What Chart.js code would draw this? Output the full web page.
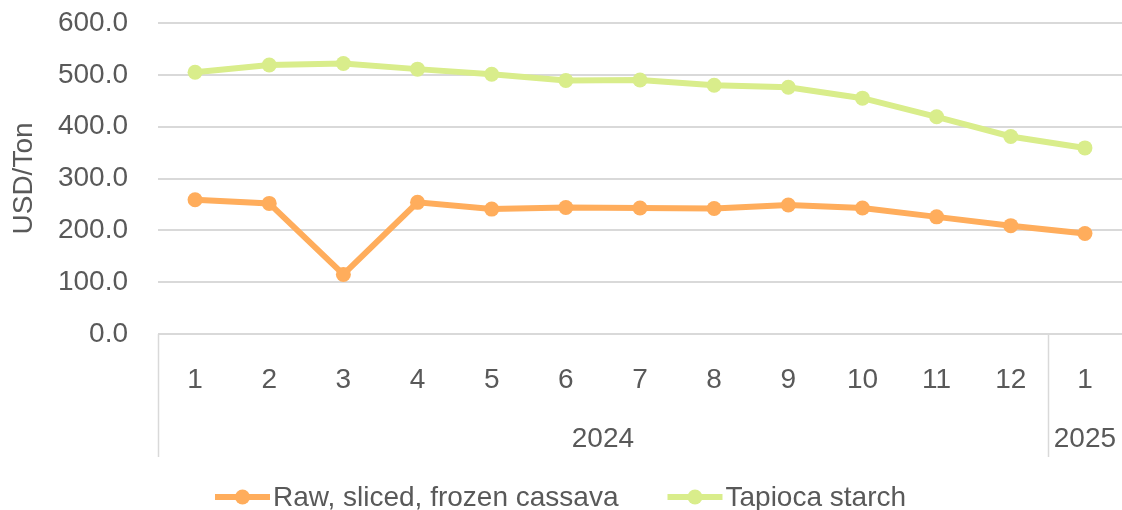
<!DOCTYPE html>
<html>
<head>
<meta charset="utf-8">
<script src="https://cdn.jsdelivr.net/npm/chart.js@4/dist/chart.umd.min.js"></script>
<style>
  html, body { margin: 0; padding: 0; background: #fff; }
  #wrap { width: 1122px; height: 510px; }
</style>
</head>
<body>
<div id="wrap"><canvas id="myChart" width="1122" height="510"></canvas></div>
<script>
var months = ['1', '2', '3', '4', '5', '6', '7', '8', '9', '10', '11', '12', '1'];
var years = ['2024', '2025'];
var yearSpan = [12, 1]; // months in each year group
var cassava = [259, 252, 115, 254, 241, 244, 243, 242, 249, 243, 226, 209, 194];
var tapioca = [505, 519, 522, 511, 501, 489, 490, 480, 476, 455, 419, 381, 359];
var seriesNames = ['Raw, sliced, frozen cassava', 'Tapioca starch'];
var seriesColors = ['#FFAD5C', '#D9ED8B'];
var yTicks = [0, 100, 200, 300, 400, 500, 600];

var textColor = '#595959';
var fontName = '"Liberation Sans", Arial, sans-serif';
var fontSize = 28;

// group centres and borders on the linear year axis
var yearCentres = [];
var yearBorders = [-0.5];
var start = -0.5;
for (var i = 0; i < years.length; i++) {
    yearCentres.push(start + yearSpan[i] / 2);
    start += yearSpan[i];
    yearBorders.push(start);
}

// the tick padding also pads the chart area, drop that
function noEdgePad(axis) {
    axis.paddingTop = 0;
    axis.paddingBottom = 0;
    axis.paddingLeft = 0;
    axis.paddingRight = 0;
}

// vertical separators across both label rows
var separators = {
    id: 'separators',
    afterDraw: function (chart) {
        var x2 = chart.scales.x2;
        var x = chart.scales.x;
        var c = chart.ctx;
        c.save();
        c.strokeStyle = '#d9d9d9';
        c.lineWidth = 1.5;
        for (var i = 0; i < yearBorders.length - 1; i++) {
            var px = Math.round(x2.getPixelForValue(yearBorders[i])) + 0.5;
            c.beginPath();
            c.moveTo(px, x.top);
            c.lineTo(px, x2.bottom);
            c.stroke();
        }
        c.restore();
    }
};

// Excel style legend: short line with a dot, then the name
var lineLegend = {
    id: 'lineLegend',
    afterDraw: function (chart) {
        var c = chart.ctx;
        var markW = 55, gapText = 3, gapItem = 49, y = 497;
        c.save();
        c.font = fontSize + 'px ' + fontName;
        c.textBaseline = 'middle';
        var widths = seriesNames.map(function (n) { return c.measureText(n).width; });
        var total = 0;
        widths.forEach(function (w, i) { total += markW + gapText + w + (i > 0 ? gapItem : 0); });
        var px = Math.round((chart.width - total) / 2);
        seriesNames.forEach(function (name, i) {
            c.strokeStyle = seriesColors[i];
            c.fillStyle = seriesColors[i];
            c.lineWidth = 6;
            c.beginPath();
            c.moveTo(px, y);
            c.lineTo(px + markW, y);
            c.stroke();
            c.beginPath();
            c.arc(px + markW / 2, y, 7.5, 0, Math.PI * 2);
            c.fill();
            c.fillStyle = textColor;
            c.fillText(name, px + markW + gapText, y + 1);
            px += markW + gapText + widths[i] + gapItem;
        });
        c.restore();
    }
};

var datasets = seriesNames.map(function (name, i) {
    return {
        label: name,
        data: i === 0 ? cassava : tapioca,
        borderColor: seriesColors[i],
        backgroundColor: seriesColors[i],
        borderWidth: 6,
        pointRadius: 7.5,
        pointHoverRadius: 7.5,
        pointBorderWidth: 0,
        tension: 0
    };
});

var ctx = document.getElementById('myChart');
var myChart = new Chart(ctx, {
    type: 'line',
    data: {
        labels: months,
        datasets: datasets
    },
    plugins: [separators, lineLegend],
    options: {
        responsive: false,
        animation: false,
        layout: { autoPadding: false, padding: { top: 23, right: 0, left: 0, bottom: 53 } },
        plugins: {
            tooltip: { enabled: false },
            legend: { display: false }
        },
        scales: {
            x: {
                type: 'category',
                offset: true,
                grid: { display: false },
                border: { display: false },
                ticks: {
                    color: textColor,
                    font: { family: fontName, size: fontSize },
                    padding: 21,
                    maxRotation: 0
                },
                afterFit: function (axis) { axis.height = 61; noEdgePad(axis); }
            },
            x2: {
                type: 'linear',
                position: 'bottom',
                min: -0.5,
                max: months.length - 0.5,
                grid: { display: false },
                border: { display: false },
                afterBuildTicks: function (axis) {
                    axis.ticks = yearCentres.map(function (v) { return { value: v }; });
                },
                ticks: {
                    color: textColor,
                    font: { family: fontName, size: fontSize },
                    padding: 19,
                    maxRotation: 0,
                    autoSkip: false,
                    callback: function (value) {
                        var k = yearCentres.indexOf(value);
                        return k >= 0 ? years[k] : '';
                    }
                },
                afterFit: function (axis) { axis.height = 62; noEdgePad(axis); }
            },
            y: {
                min: 0,
                max: 600,
                afterBuildTicks: function (axis) {
                    axis.ticks = yTicks.map(function (v) { return { value: v }; });
                },
                grid: { color: '#d9d9d9', lineWidth: 2, drawTicks: false },
                border: { display: false },
                ticks: {
                    color: textColor,
                    font: { family: fontName, size: fontSize },
                    padding: 30,
                    callback: function (v) { return Number(v).toFixed(1); }
                },
                title: {
                    display: true,
                    text: 'USD/Ton',
                    color: textColor,
                    font: { family: fontName, size: fontSize },
                    padding: { top: 7, bottom: 0 }
                },
                afterFit: function (axis) { axis.width = 158; noEdgePad(axis); }
            }
        }
    }
});
</script>
</body>
</html>
